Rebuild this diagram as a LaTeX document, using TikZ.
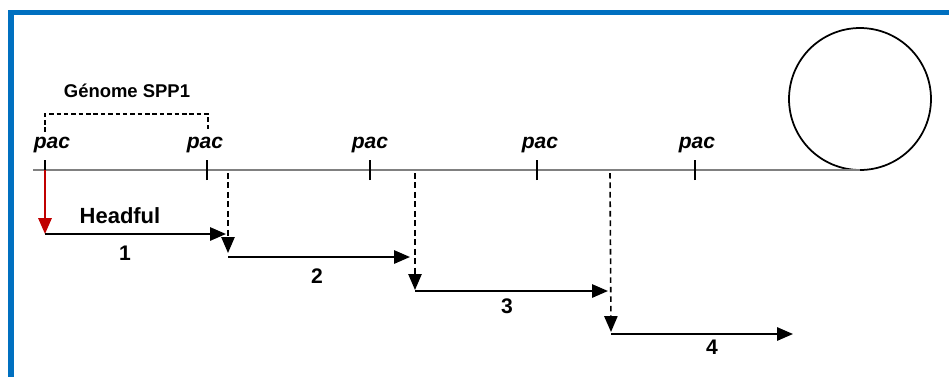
\documentclass[tikz,border=0pt]{standalone}
\usepackage{fontspec}
\setmainfont{Liberation Sans}
\usetikzlibrary{arrows.meta}

\definecolor{framblue}{HTML}{0070C0}
\definecolor{pacred}{HTML}{C00000}
\definecolor{dnagray}{HTML}{808080}

\tikzset{
    tip/.style={-{Triangle[length=9pt,width=7.5pt]}},
    headful/.style={tip, line width=1.1pt},
    pacdrop/.style={tip, line width=0.9pt, dash pattern=on 3.2pt off 2.2pt},
    paclabel/.style={anchor=base, inner sep=0pt, font=\fontsize{12}{14}\selectfont\bfseries\itshape},
    numlabel/.style={inner sep=0pt, font=\fontsize{12}{14}\selectfont\bfseries},
}

\begin{document}
\begin{tikzpicture}[x=0.02cm, y=-0.02cm]
    \useasboundingbox (0,0) rectangle (949,376);
    \draw[framblue, line width=3.4pt] (11,400) -- (11,12.5) -- (970,12.5);

    % concatemer and prohead
    \node[circle, draw, line width=1pt, minimum size=2.84cm, inner sep=0pt] (prohead) at (860,99) {};
    \coordinate (dnastart) at (33,170);
    \draw[dnagray, line width=1.2pt] (dnastart) -- (dnastart -| prohead.south);

    % pac sites
    \coordinate (pac1) at (45,170);
    \coordinate (pac2) at (207,170);
    \coordinate (pac3) at (370,170);
    \coordinate (pac4) at (537,170);
    \coordinate (pac5) at (695,170);
    \foreach \p in {pac1,pac2,pac3,pac4,pac5}
        \draw[line width=0.6pt] ([yshift=-0.2cm]\p) -- ([yshift=0.2cm]\p);
    \node[paclabel] (pl1) at (52,148) {pac};
    \node[paclabel] (pl2) at (205,148) {pac};
    \node[paclabel] (pl3) at (370,148) {pac};
    \node[paclabel] (pl4) at (540,148) {pac};
    \node[paclabel] (pl5) at (697,148) {pac};

    % one genome
    \coordinate (gl) at (45,132);
    \coordinate (gr) at (208,132);
    \draw[line width=0.7pt, dash pattern=on 2.6pt off 1.6pt] (gl) -- ++(0,-18) -| (gr);
    \node[anchor=base, inner sep=0pt, font=\fontsize{10.5}{12}\selectfont\bfseries] (genome) at (127,97) {Génome SPP1};

    % cleavage at pac and headfuls
    \coordinate (s1) at (45,234);
    \coordinate (e1) at (226,234);
    \coordinate (c1) at (228,173);
    \coordinate (s2) at (228,257);
    \coordinate (e2) at (410,257);
    \coordinate (c2) at (415,173);
    \coordinate (s3) at (415,291);
    \coordinate (e3) at (608,291);
    \coordinate (c3) at (610,173);
    \coordinate (s4) at (611,334);
    \coordinate (e4) at (793,334);

    \draw[tip, pacred, line width=1.2pt] (pac1) -- (s1);
    \node[anchor=base, inner sep=0pt, font=\fontsize{12.5}{14}\selectfont\bfseries] (hf) at (120,223) {Headful};

    \draw[headful] (s1) -- (e1);
    \draw[pacdrop] (c1) -- ([yshift=0.08cm]s2);
    \draw[headful] (s2) -- (e2);
    \draw[pacdrop] (c2) -- ([yshift=0.02cm]s3);
    \draw[headful] (s3) -- (e3);
    \draw[pacdrop] (c3) -- ([yshift=0.04cm]s4);
    \draw[headful] (s4) -- (e4);

    \node[numlabel] (n1) at (125,253) {1};
    \node[numlabel] (n2) at (317,276) {2};
    \node[numlabel] (n3) at (507,306) {3};
    \node[numlabel] (n4) at (712,347) {4};
\end{tikzpicture}
\end{document}
